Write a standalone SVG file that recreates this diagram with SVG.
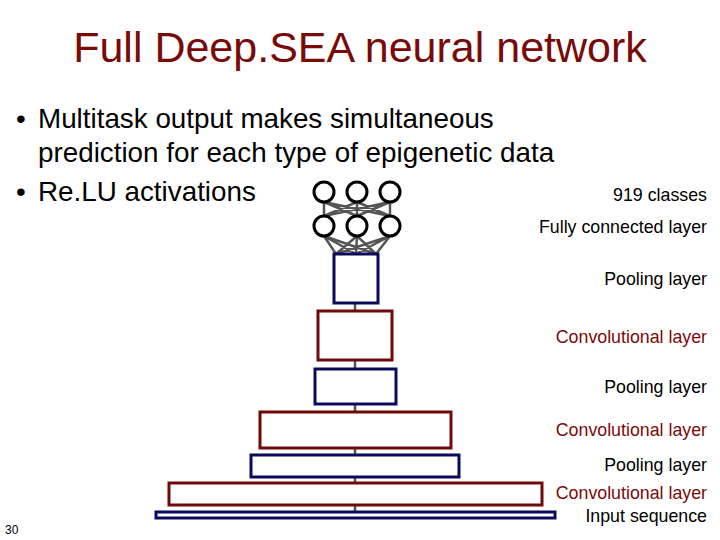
<svg xmlns="http://www.w3.org/2000/svg" width="720" height="540" viewBox="0 0 720 540">
<style>
text{font-family:"Liberation Sans",Arial,sans-serif}
.t{fill:#7a0a0a;font-size:43px}
.b{fill:#000;font-size:27.8px}
.l{fill:#000;font-size:17.8px}
.lr{fill:#7a0a0a;font-size:17.8px}
.pool{fill:#fff;stroke:#0a0a5a;stroke-width:3}
.conv{fill:#fff;stroke:#6e0a0a;stroke-width:3}
.n{fill:#fff;stroke:#000;stroke-width:3}
.c{stroke:#555;stroke-width:2.5;fill:none}
</style>
<rect width="720" height="540" fill="#fff"/>
<text class="t" x="360" y="62" text-anchor="middle">Full Deep.SEA neural network</text>
<text class="b" x="16" y="128">•</text><text class="b" x="38" y="128">Multitask output makes simultaneous</text>
<text class="b" x="38" y="162">prediction for each type of epigenetic data</text>
<text class="b" x="16" y="201">•</text><text class="b" x="38" y="201">Re.LU activations</text>
<g id="connectors">
<path class="c" d="M324 202L357 216M324 202L390 216M357 202L324 216M357 202L390 216M390 202L324 216M390 202L357 216M324 202V216M357 202V216M390 202V216"/>
<path class="c" d="M324 236L336 254M324 236L356 254M324 236L376 254M357 236L336 254M357 236L356 254M357 236L376 254M390 236L336 254M390 236L356 254M390 236L376 254"/>
<path class="c" d="M355 303V311M355 360V369M355 404V412M355 448V455M355 477V483M355 505V512"/>
</g>
<g id="output"><circle class="n" cx="324" cy="192" r="10"/><circle class="n" cx="357" cy="192" r="10"/><circle class="n" cx="390" cy="192" r="10"/><text class="l" x="707" y="201" text-anchor="end">919 classes</text></g>
<g id="fc"><circle class="n" cx="324" cy="226" r="10"/><circle class="n" cx="357" cy="226" r="10"/><circle class="n" cx="390" cy="226" r="10"/><text class="l" x="707" y="233" text-anchor="end">Fully connected layer</text></g>
<g id="pool1"><rect class="pool" x="334" y="254" width="44" height="49"/><text class="l" x="707" y="285" text-anchor="end">Pooling layer</text></g>
<g id="conv1"><rect class="conv" x="318" y="311" width="74" height="49"/><text class="lr" x="707" y="343" text-anchor="end">Convolutional layer</text></g>
<g id="pool2"><rect class="pool" x="315" y="369" width="81" height="35"/><text class="l" x="707" y="393" text-anchor="end">Pooling layer</text></g>
<g id="conv2"><rect class="conv" x="260" y="412" width="191" height="36"/><text class="lr" x="707" y="436" text-anchor="end">Convolutional layer</text></g>
<g id="pool3"><rect class="pool" x="251" y="455" width="208" height="22"/><text class="l" x="707" y="471" text-anchor="end">Pooling layer</text></g>
<g id="conv3"><rect class="conv" x="169" y="483" width="373" height="22"/><text class="lr" x="707" y="499" text-anchor="end">Convolutional layer</text></g>
<g id="input"><rect class="pool" x="156" y="512" width="399" height="6"/><text class="l" x="707" y="522" text-anchor="end">Input sequence</text></g>
<text x="5" y="534" style="font-size:12px">30</text>
</svg>
